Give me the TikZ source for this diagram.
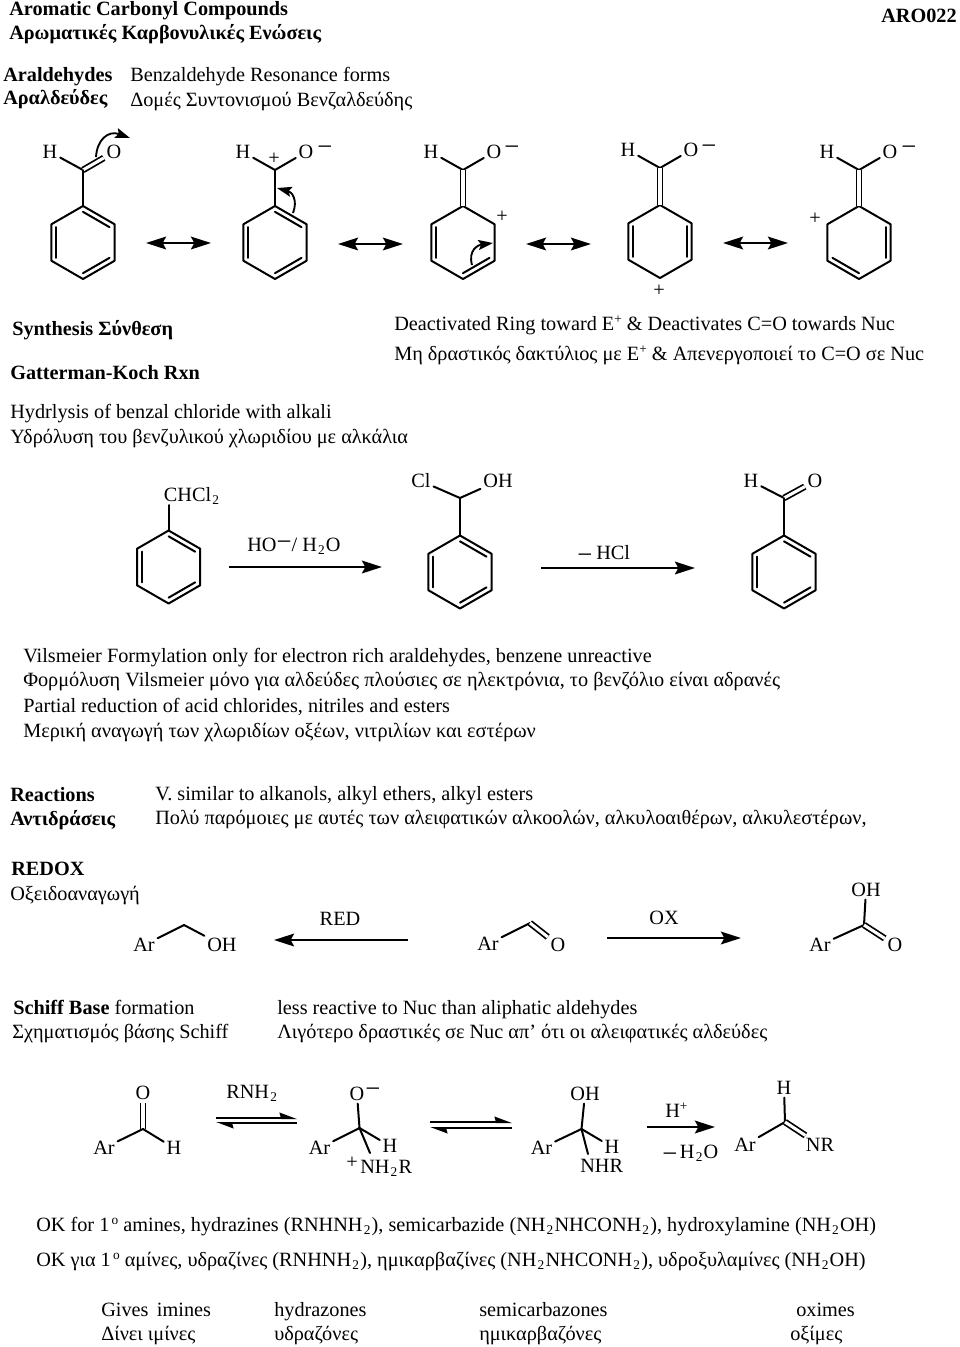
\documentclass[tikz,border=0pt]{standalone}
\usepackage{fontspec}
\setmainfont{Liberation Serif}
\usetikzlibrary{calc,arrows.meta}
\newcommand\up[1]{\raisebox{5pt}{\fontsize{10}{10}\selectfont #1}}
\newcommand\dn[1]{\kern.9pt\raisebox{-2.5pt}{\fontsize{10}{10}\selectfont #1}\kern.9pt}
\newcommand\lminus{\raisebox{-3.5pt}{\fontsize{20}{20}\selectfont −}}
\tikzset{
  txt/.style={anchor=base west,inner sep=0pt,font=\fontsize{15.2}{17}\selectfont},
  btxt/.style={txt,font=\fontsize{15.2}{17}\selectfont\bfseries},
  atom/.style={anchor=center,inner sep=2pt,font=\fontsize{15.2}{17}\selectfont,text height=10pt,text depth=0pt},
  chg/.style={anchor=center,inner sep=0pt,font=\fontsize{15.2}{17}\selectfont},
  mns/.style={anchor=center,inner sep=0pt,yshift=-2.8pt,font=\fontsize{20}{20}\selectfont},
  bond/.style={line width=1.5pt,line cap=round,line join=round},
  dbond/.style={line width=1.3pt,double,double distance=2.3pt},
  rxn/.style={line width=1.8pt,-{Stealth[length=15pt,width=9.5pt,inset=2.5pt]}},
  rxnb/.style={line width=1.8pt,{Stealth[length=15pt,width=9.5pt,inset=2.5pt]}-{Stealth[length=15pt,width=9.5pt,inset=2.5pt]}},
  curly/.style={line width=1.4pt,-{Stealth[length=11pt,width=7.5pt,inset=2pt]}},
  eqtop/.style={line width=1.5pt,-{Stealth[length=11pt,width=8pt,inset=1pt,harpoon]}},
}
\newcommand\ringat[4]{%
  \coordinate (#1-c) at (#2,#3);
  \coordinate (#1-1) at (#2,#3-36.5);
  \coordinate (#1-2) at (#2+31.6,#3-18.25);
  \coordinate (#1-3) at (#2+31.6,#3+18.25);
  \coordinate (#1-4) at (#2,#3+36.5);
  \coordinate (#1-5) at (#2-31.6,#3+18.25);
  \coordinate (#1-6) at (#2-31.6,#3-18.25);
  \draw[bond] (#1-1) -- (#1-2) -- (#1-3) -- (#1-4) -- (#1-5) -- (#1-6) -- cycle;
  \foreach \a/\b in {#4}{\draw[bond] ($(#1-c)!.84!(#1-\a)$) -- ($(#1-c)!.84!(#1-\b)$);}
}
\begin{document}
\begin{tikzpicture}[x=0.75pt,y=-0.75pt]
\useasboundingbox (0,0) rectangle (960,1347);
% header
\node[btxt] (t1) at (9,15) {Aromatic Carbonyl Compounds};
\node[btxt] (t2) at (9,39) {Αρωματικές Καρβονυλικές Ενώσεις};
\node[btxt,anchor=base east] (t3) at (957,22) {ARO022};
\node[btxt] (t4) at (3,81) {Araldehydes};
\node[btxt] (t5) at (3,104) {Αραλδεύδες};
\node[txt] (t6) at (130,81) {Benzaldehyde Resonance forms};
\node[txt] (t7) at (130,106) {Δομές Συντονισμού Βενζαλδεύδης};
% resonance forms
\coordinate (c1) at (83,170);
\node[atom] (h1) at (50,152) {H};
\node[atom] (o1) at (114,152) {O};
\draw[bond] (c1) -- (h1);
\draw[dbond] (c1) -- (o1);
\ringat{r1}{83}{242.5}{1/2,3/4,5/6}
\draw[bond] (c1) -- (r1-1);
\coordinate (ca1s) at (96,157); \coordinate (ca1e) at (130,138);
\draw[curly] (ca1s) .. controls (97,140) and (108,130) .. (ca1e);

\coordinate (c2) at (275,170);
\node[atom] (h2) at (243,152) {H};
\node[atom] (o2) at (306,152) {O};
\node[mns] (m2) at (325,147) {−};
\node[chg] (p2) at (274,159) {+};
\draw[bond] (c2) -- (h2);
\draw[bond] (c2) -- (o2);
\ringat{r2}{275}{242.5}{1/2,3/4,5/6}
\draw[bond] (c2) -- (r2-1);
\coordinate (ca2s) at (293,213); \coordinate (ca2e) at (277,188);
\draw[curly] (ca2s) .. controls (298,200) and (292,192) .. (ca2e);

\coordinate (c3) at (463,170);
\node[atom] (h3) at (431,152) {H};
\node[atom] (o3) at (494,152) {O};
\node[mns] (m3) at (512,147) {−};
\node[chg] (p3) at (502,217) {+};
\draw[bond] (c3) -- (h3);
\draw[bond] (c3) -- (o3);
\ringat{r3}{463}{242.5}{3/4,5/6}
\draw[dbond] (c3) -- (r3-1);
\coordinate (ca3s) at (472,265); \coordinate (ca3e) at (493,243);
\draw[curly] (ca3s) .. controls (468,250) and (478,245) .. (ca3e);

\coordinate (c4) at (660,168);
\node[atom] (h4) at (628,150) {H};
\node[atom] (o4) at (691,150) {O};
\node[mns] (m4) at (709,146) {−};
\node[chg] (p4) at (659,291) {+};
\draw[bond] (c4) -- (h4);
\draw[bond] (c4) -- (o4);
\ringat{r4}{660}{241.5}{2/3,5/6}
\draw[dbond] (c4) -- (r4-1);

\coordinate (c5) at (859,170);
\node[atom] (h5) at (827,152) {H};
\node[atom] (o5) at (890,152) {O};
\node[mns] (m5) at (909,147) {−};
\node[chg] (p5) at (815,219) {+};
\draw[bond] (c5) -- (h5);
\draw[bond] (c5) -- (o5);
\ringat{r5}{859}{242.5}{2/3,4/5}
\draw[dbond] (c5) -- (r5-1);

\coordinate (a1s) at (146,243); \coordinate (a1e) at (211,243);
\coordinate (a2s) at (338,244); \coordinate (a2e) at (403,244);
\coordinate (a3s) at (526,244); \coordinate (a3e) at (591,244);
\coordinate (a4s) at (723,243); \coordinate (a4e) at (788,243);
\draw[rxnb] (a1s) -- (a1e);
\draw[rxnb] (a2s) -- (a2e);
\draw[rxnb] (a3s) -- (a3e);
\draw[rxnb] (a4s) -- (a4e);
% synthesis text
\node[btxt] (s1) at (12,335) {Synthesis Σύνθεση};
\node[btxt] (s2) at (10,379) {Gatterman-Koch Rxn};
\node[txt] (s3) at (10,418) {Hydrlysis of benzal chloride with alkali};
\node[txt] (s4) at (10,443) {Υδρόλυση του βενζυλικού χλωριδίου με αλκάλια};
\node[txt] (s5) at (394,330) {Deactivated Ring toward E\up{+} \& Deactivates C=O towards Nuc};
\node[txt] (s6) at (394,360) {Μη δραστικός δακτύλιος με E\up{+} \& Απενεργοποιεί το C=O σε Nuc};
% hydrolysis
\node[atom,anchor=base west] (b1) at (161,501) {CHCl\dn{2}};
\coordinate (b1a) at (168.6,505);
\ringat{q1}{168.6}{567}{1/2,3/4,5/6}
\draw[bond] (q1-1) -- (b1a);
\coordinate (c6) at (460,498);
\node[atom] (cl6) at (421,481) {Cl};
\node[atom] (oh6) at (498,481) {OH};
\draw[bond] (c6) -- (cl6);
\draw[bond] (c6) -- (oh6);
\ringat{q2}{460}{572}{1/2,3/4,5/6}
\draw[bond] (c6) -- (q2-1);
\coordinate (c7) at (784,498);
\node[atom] (h7) at (751,481) {H};
\node[atom] (o7) at (815,481) {O};
\draw[bond] (c7) -- (h7);
\draw[dbond] (c7) -- (o7);
\ringat{q3}{784}{572}{1/2,3/4,5/6}
\draw[bond] (c7) -- (q3-1);
\coordinate (a5s) at (229,567); \coordinate (a5e) at (382,567);
\coordinate (a6s) at (541,568); \coordinate (a6e) at (695,568);
\draw[rxn] (a5s) -- (a5e);
\draw[rxn] (a6s) -- (a6e);
\node[txt] (l1) at (247,551) {HO\raisebox{4pt}{\lminus}/ H\dn{2}O};
\node[txt] (l2) at (577,559) {\lminus\kern3pt HCl};
% vilsmeier
\node[txt] (v1) at (23,662) {Vilsmeier Formylation only for electron rich araldehydes, benzene unreactive};
\node[txt] (v2) at (23,686) {Φορμόλυση Vilsmeier μόνο για αλδεύδες πλούσιες σε ηλεκτρόνια, το βενζόλιο είναι αδρανές};
\node[txt] (v3) at (23,712) {Partial reduction of acid chlorides, nitriles and esters};
\node[txt] (v4) at (23,737) {Μερική αναγωγή των χλωριδίων οξέων, νιτριλίων και εστέρων};
% reactions
\node[btxt] (x1) at (10,801) {Reactions};
\node[btxt] (x2) at (10,825) {Αντιδράσεις};
\node[txt] (x3) at (155,800) {V. similar to alkanols, alkyl ethers, alkyl esters};
\node[txt] (x4) at (155,824) {Πολύ παρόμοιες με αυτές των αλειφατικών αλκοολών, αλκυλοαιθέρων, αλκυλεστέρων,};
\node[btxt] (x5) at (11,875) {REDOX};
\node[txt] (x6) at (10,900) {Οξειδοαναγωγή};
% redox
\node[atom] (ar8) at (144,945) {Ar};
\coordinate (c8) at (184,925);
\node[atom] (oh8) at (222,945) {OH};
\draw[bond] (ar8) -- (c8);
\draw[bond] (c8) -- (oh8);
\node[atom] (ar9) at (488,944) {Ar};
\coordinate (c9) at (530,923);
\node[atom] (o9) at (558,945) {O};
\draw[bond] (ar9) -- (c9);
\draw[dbond] (c9) -- (o9);
\node[atom] (ar10) at (820,945) {Ar};
\coordinate (c10) at (864,925);
\node[atom] (oh10) at (866,890) {OH};
\node[atom] (o10) at (895,945) {O};
\draw[bond] (ar10) -- (c10);
\draw[bond] (c10) -- (oh10);
\draw[dbond] (c10) -- (o10);
\coordinate (a7s) at (408,940); \coordinate (a7e) at (274,940);
\coordinate (a8s) at (607,938); \coordinate (a8e) at (741,938);
\draw[rxn] (a7s) -- (a7e);
\draw[rxn] (a8s) -- (a8e);
\node[atom] (l3) at (340,919) {RED};
\node[atom] (l4) at (664,918) {OX};
% schiff
\node[txt] (f1) at (13,1014) {\textbf{Schiff Base} formation};
\node[txt] (f2) at (12,1038) {Σχηματισμός βάσης Schiff};
\node[txt] (f3) at (277,1014) {less reactive to Nuc than aliphatic aldehydes};
\node[txt] (f4) at (277,1038) {Λιγότερο δραστικές σε Nuc απ’ ότι οι αλειφατικές αλδεύδες};
\node[atom] (o11) at (143,1093) {O};
\coordinate (c11) at (143,1129);
\node[atom] (ar11) at (104,1148) {Ar};
\node[atom] (h11) at (174,1148) {H};
\draw[dbond] (c11) -- (o11);
\draw[bond] (ar11) -- (c11);
\draw[bond] (c11) -- (h11);
\node[txt] (l5) at (226,1098) {RNH\dn{2}};
\coordinate (e1a) at (216,1118); \coordinate (e1b) at (297,1118);
\coordinate (e1c) at (297,1123); \coordinate (e1d) at (216,1123);
\draw[eqtop] (e1a) -- (e1b);
\draw[eqtop] (e1c) -- (e1d);
\node[atom] (o12) at (357,1094) {O};
\node[mns] (m12) at (373,1089) {−};
\coordinate (c12) at (359.5,1128);
\node[atom] (ar12) at (319.5,1148) {Ar};
\node[atom] (h12) at (390,1146) {H};
\node[chg] (p12) at (352,1163) {+};
\node[txt] (n12) at (360,1173) {NH\dn{2}R};
\coordinate (n12a) at (370,1153);
\draw[bond] (c12) -- (o12);
\draw[bond] (ar12) -- (c12);
\draw[bond] (c12) -- (h12);
\draw[bond] (c12) -- (n12a);
\coordinate (e2a) at (430,1122); \coordinate (e2b) at (512,1122);
\coordinate (e2c) at (512,1128); \coordinate (e2d) at (430,1128);
\draw[eqtop] (e2a) -- (e2b);
\draw[eqtop] (e2c) -- (e2d);
\node[atom] (oh13) at (585,1094) {OH};
\coordinate (c13) at (581.5,1129);
\node[atom] (ar13) at (541.5,1148) {Ar};
\node[atom] (h13) at (612,1147) {H};
\node[txt] (n13) at (580,1172) {NHR};
\coordinate (n13a) at (588,1154);
\draw[bond] (c13) -- (oh13);
\draw[bond] (ar13) -- (c13);
\draw[bond] (c13) -- (h13);
\draw[bond] (c13) -- (n13a);
\coordinate (a9s) at (647,1127); \coordinate (a9e) at (715,1127);
\draw[rxn] (a9s) -- (a9e);
\node[txt] (l6) at (665,1117) {H\up{+}};
\node[txt] (l7) at (662,1158) {\lminus\kern2pt H\dn{2}O};
\node[atom] (h14) at (784,1088) {H};
\coordinate (c14) at (785,1122);
\node[atom] (ar14) at (745,1145) {Ar};
\node[atom] (nr14) at (820,1145) {NR};
\draw[bond] (c14) -- (h14);
\draw[bond] (ar14) -- (c14);
\draw[dbond] (c14) -- (nr14);
% bottom
\node[txt] (z1) at (36,1231) {OK for 1\up{\,o} amines, hydrazines (RNHNH\dn{2}), semicarbazide (NH\dn{2}NHCONH\dn{2}), hydroxylamine (NH\dn{2}OH)};
\node[txt] (z2) at (36,1266) {OK για 1\up{\,o} αμίνες, υδραζίνες (RNHNH\dn{2}), ημικαρβαζίνες (NH\dn{2}NHCONH\dn{2}), υδροξυλαμίνες (NH\dn{2}OH)};
\node[txt] (g1) at (101,1316) {Gives\, imines};
\node[txt] (g2) at (274,1316) {hydrazones};
\node[txt] (g3) at (479,1316) {semicarbazones};
\node[txt] (g4) at (796,1316) {oximes};
\node[txt] (g5) at (101,1340) {Δίνει ιμίνες};
\node[txt] (g6) at (274,1340) {υδραζόνες};
\node[txt] (g7) at (479,1340) {ημικαρβαζόνες};
\node[txt] (g8) at (790,1340) {οξίμες};
\end{tikzpicture}
\end{document}
